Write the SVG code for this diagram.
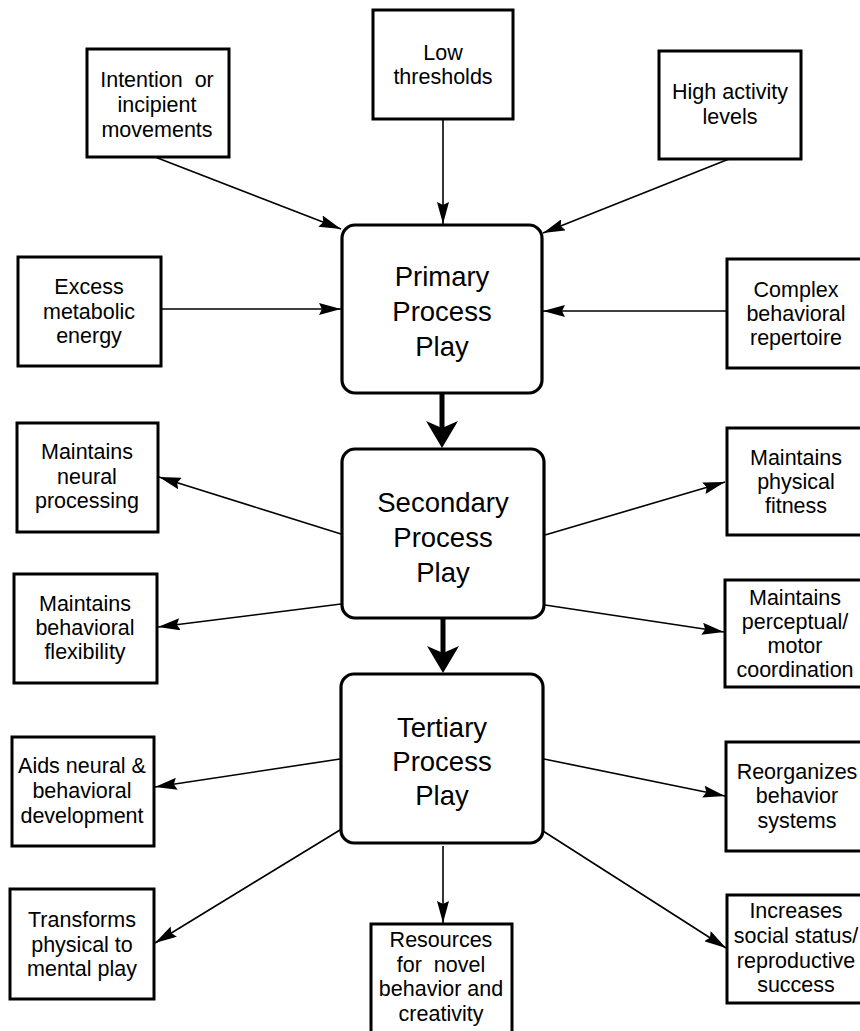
<svg xmlns="http://www.w3.org/2000/svg" width="860" height="1031" viewBox="0 0 860 1031">
<style>
.box{fill:#fff;stroke:#000;stroke-width:3}
.cbox{fill:#fff;stroke:#000;stroke-width:3.2}
.t{font-family:"Liberation Sans",Arial,Helvetica,sans-serif;font-size:21.5px;text-anchor:middle;fill:#000}
.big{font-family:"Liberation Sans",Arial,Helvetica,sans-serif;font-size:27.5px;text-anchor:middle;fill:#000}
.c{stroke:#000;stroke-width:1.6;fill:none;marker-end:url(#ah)}
.thick{stroke:#000;stroke-width:5;fill:none}
</style>
<defs>
<marker id="ah" viewBox="0 0 22 12" refX="22" refY="6" markerWidth="22" markerHeight="12" markerUnits="userSpaceOnUse" orient="auto">
<path d="M0,0 L22,6 L0,12 L3,6 Z" fill="#000"/>
</marker>
</defs>
<rect width="860" height="1031" fill="#fff"/>
<g id="connectors">
<line class="c" x1="155" y1="157" x2="341" y2="229"/>
<line class="c" x1="443" y1="119" x2="443" y2="224"/>
<line class="c" x1="729" y1="159" x2="543" y2="233"/>
<line class="c" x1="161" y1="309" x2="341" y2="309"/>
<line class="c" x1="726" y1="311" x2="543" y2="311"/>
<line class="c" x1="341" y1="534" x2="159" y2="477"/>
<line class="c" x1="545" y1="535" x2="725" y2="482"/>
<line class="c" x1="341" y1="604" x2="158" y2="627"/>
<line class="c" x1="545" y1="605" x2="724" y2="632"/>
<line class="c" x1="340" y1="759" x2="155" y2="787"/>
<line class="c" x1="544" y1="759" x2="725" y2="796"/>
<line class="c" x1="340" y1="830" x2="155" y2="943"/>
<line class="c" x1="443" y1="846" x2="443" y2="923"/>
<line class="c" x1="543" y1="831" x2="726" y2="948"/>
<line class="thick" x1="442" y1="393" x2="442" y2="430"/>
<path d="M442,448 L426,421 L442,428 L458,421 Z" fill="#000"/>
<line class="thick" x1="443" y1="618" x2="443" y2="655"/>
<path d="M443,673 L427,646 L443,653 L459,646 Z" fill="#000"/>
</g>
<g id="primary">
<rect class="cbox" x="342" y="225" width="200" height="168" rx="13"/>
<text class="big" x="442" y="286">Primary</text>
<text class="big" x="442" y="321">Process</text>
<text class="big" x="442" y="356">Play</text>
</g>
<g id="secondary">
<rect class="cbox" x="342" y="449" width="202" height="169" rx="13"/>
<text class="big" x="443" y="512">Secondary</text>
<text class="big" x="443" y="547">Process</text>
<text class="big" x="443" y="582">Play</text>
</g>
<g id="tertiary">
<rect class="cbox" x="341" y="674" width="202" height="169" rx="13"/>
<text class="big" x="442" y="737">Tertiary</text>
<text class="big" x="442" y="771">Process</text>
<text class="big" x="442" y="805">Play</text>
</g>
<g id="intention">
<rect class="box" x="87" y="49" width="142" height="108"/>
<text class="t" x="157" y="87" xml:space="preserve">Intention  or</text>
<text class="t" x="157" y="112">incipient</text>
<text class="t" x="157" y="137">movements</text>
</g>
<g id="low">
<rect class="box" x="373" y="10" width="140" height="109"/>
<text class="t" x="443" y="60">Low</text>
<text class="t" x="443" y="84">thresholds</text>
</g>
<g id="high">
<rect class="box" x="659" y="51" width="142" height="108"/>
<text class="t" x="730" y="99">High activity</text>
<text class="t" x="730" y="124">levels</text>
</g>
<g id="excess">
<rect class="box" x="18" y="257" width="143" height="109"/>
<text class="t" x="89" y="294">Excess</text>
<text class="t" x="89" y="319">metabolic</text>
<text class="t" x="89" y="343">energy</text>
</g>
<g id="complex">
<rect class="box" x="727" y="259" width="140" height="109"/>
<text class="t" x="796" y="297">Complex</text>
<text class="t" x="796" y="321">behavioral</text>
<text class="t" x="796" y="345">repertoire</text>
</g>
<g id="neural">
<rect class="box" x="17" y="423" width="141" height="109"/>
<text class="t" x="87" y="459">Maintains</text>
<text class="t" x="87" y="484">neural</text>
<text class="t" x="87" y="508">processing</text>
</g>
<g id="fitness">
<rect class="box" x="727" y="428" width="140" height="107"/>
<text class="t" x="796" y="465">Maintains</text>
<text class="t" x="796" y="489">physical</text>
<text class="t" x="796" y="513">fitness</text>
</g>
<g id="flexibility">
<rect class="box" x="14" y="574" width="143" height="109"/>
<text class="t" x="85" y="611">Maintains</text>
<text class="t" x="85" y="635">behavioral</text>
<text class="t" x="85" y="659">flexibility</text>
</g>
<g id="perceptual">
<rect class="box" x="725" y="580" width="140" height="107"/>
<text class="t" x="795" y="605">Maintains</text>
<text class="t" x="795" y="629">perceptual/</text>
<text class="t" x="795" y="653">motor</text>
<text class="t" x="795" y="677">coordination</text>
</g>
<g id="aids">
<rect class="box" x="12" y="737" width="142" height="109"/>
<text class="t" x="82" y="773">Aids neural &amp;</text>
<text class="t" x="82" y="798">behavioral</text>
<text class="t" x="82" y="823">development</text>
</g>
<g id="reorganizes">
<rect class="box" x="726" y="742" width="140" height="109"/>
<text class="t" x="797" y="779">Reorganizes</text>
<text class="t" x="797" y="803">behavior</text>
<text class="t" x="797" y="828">systems</text>
</g>
<g id="transforms">
<rect class="box" x="10" y="889" width="144" height="110"/>
<text class="t" x="82" y="927">Transforms</text>
<text class="t" x="82" y="952">physical to</text>
<text class="t" x="82" y="976">mental play</text>
</g>
<g id="resources">
<rect class="box" x="371" y="924" width="141" height="112"/>
<text class="t" x="441" y="947">Resources</text>
<text class="t" x="441" y="972" xml:space="preserve">for  novel</text>
<text class="t" x="441" y="996">behavior and</text>
<text class="t" x="441" y="1021">creativity</text>
</g>
<g id="increases">
<rect class="box" x="727" y="895" width="140" height="108"/>
<text class="t" x="796" y="918">Increases</text>
<text class="t" x="796" y="943">social status/</text>
<text class="t" x="796" y="968">reproductive</text>
<text class="t" x="796" y="992">success</text>
</g>
</svg>
